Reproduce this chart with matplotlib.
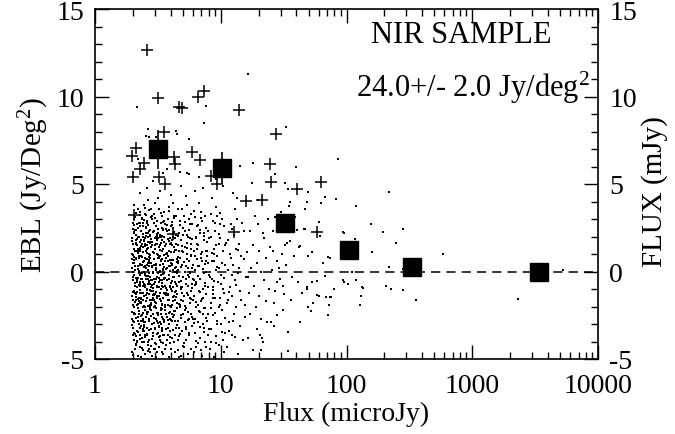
import matplotlib
matplotlib.use('Agg')
import matplotlib.pyplot as plt
from matplotlib.ticker import FixedLocator, FixedFormatter, LogLocator, NullFormatter, MultipleLocator

# ---------------- data ----------------
dots_a = [(1.97,-4.6),(2.03,-3.9),(2.10,-4.2),(2.21,-4.8),(2.27,-3.6),(1.99,-3.2),(2.06,-2.9),(2.14,-3.4),(2.18,-2.6),(2.25,-3.0),
(1.98,-2.3),(2.02,-1.9),(2.09,-2.4),(2.13,-1.6),(2.20,-2.1),(2.28,-1.8),(1.96,-1.4),(2.05,-1.1),(2.11,-1.3),(2.17,-0.9),
(2.23,-1.5),(2.29,-0.7),(1.99,-0.5),(2.04,-0.2),(2.08,-0.8),(2.15,-0.4),(2.22,-0.1),(2.26,-0.6),(1.97,0.2),(2.01,0.5),
(2.07,0.1),(2.12,0.7),(2.19,0.3),(2.24,0.9),(2.30,0.4),(1.98,1.0),(2.03,1.3),(2.10,0.8),(2.16,1.5),(2.21,1.1),
(2.27,1.7),(1.96,1.9),(2.06,2.2),(2.13,1.8),(2.18,2.5),(2.25,2.0),(2.00,2.8),(2.09,3.1),(2.15,2.7),(2.28,3.4),
(2.04,3.8),(2.20,3.6),(1.97,-2.7),(2.12,-3.7),(2.24,-2.4),(2.07,-4.4),(2.17,-4.0),(2.02,-0.3),(2.14,-1.9),(2.27,-1.2),
(1.99,1.6),(2.11,2.4),(2.23,0.0),(2.05,-3.5),(2.19,-2.8),(2.29,-4.3),(2.08,1.2),(2.26,2.6),(1.98,0.7),(2.16,-0.6)]

dots_b = [(2.31,-4.9),(2.40,-4.5),(2.52,-4.7),(2.63,-4.2),(2.75,-4.6),(2.35,-3.8),(2.46,-4.0),(2.57,-3.6),(2.68,-3.9),(2.78,-3.3),
(2.33,-3.1),(2.43,-3.4),(2.50,-2.9),(2.60,-3.2),(2.71,-2.7),(2.38,-2.5),(2.48,-2.2),(2.55,-2.6),(2.65,-2.3),(2.76,-2.0),
(2.32,-1.8),(2.41,-2.0),(2.53,-1.7),(2.61,-1.5),(2.72,-1.9),(2.36,-1.2),(2.45,-1.4),(2.58,-1.0),(2.67,-1.3),(2.77,-1.1),
(2.30,-0.8),(2.39,-0.6),(2.49,-0.9),(2.56,-0.4),(2.64,-0.7),(2.73,-0.3),(2.34,-0.1),(2.44,0.0),(2.52,-0.2),(2.62,0.1),
(2.70,0.3),(2.79,-0.5),(2.37,0.4),(2.47,0.6),(2.54,0.2),(2.66,0.5),(2.74,0.8),(2.31,0.9),(2.42,1.1),(2.51,0.8),
(2.59,1.3),(2.69,1.0),(2.78,1.4),(2.35,1.6),(2.46,1.8),(2.57,1.5),(2.63,2.0),(2.75,1.7),(2.33,2.3),(2.40,2.6),
(2.53,2.2),(2.61,2.8),(2.72,2.4),(2.38,3.0),(2.49,3.3),(2.58,2.9),(2.68,3.5),(2.77,3.1),(2.44,3.8),(2.65,4.1),
(2.32,-2.8),(2.50,-3.6),(2.71,-4.4),(2.36,-0.4),(2.55,0.7),(2.74,-1.6),(2.43,1.4),(2.60,-2.4),(2.76,2.1),(2.34,-1.5),
(2.47,-0.7),(2.64,1.7),(2.39,2.0),(2.57,-1.2),(2.69,-0.1),(2.45,-2.9),(2.62,-4.0),(2.30,1.2),(2.52,1.9),(2.73,0.5),
(2.41,-3.3),(2.56,2.5),(2.67,-2.8),(2.48,0.3),(2.78,-0.9)]

dots_c = [(2.82,-4.8),(2.95,-4.4),(3.08,-4.9),(3.22,-4.3),(3.38,-4.6),(2.88,-3.7),(3.01,-4.1),(3.15,-3.5),(3.29,-3.9),(3.44,-3.4),
(2.85,-3.0),(2.98,-3.3),(3.11,-2.8),(3.25,-3.1),(3.40,-2.6),(2.91,-2.4),(3.04,-2.1),(3.18,-2.5),(3.33,-2.2),(3.46,-2.7),
(2.80,-1.9),(2.93,-1.6),(3.06,-1.8),(3.20,-1.4),(3.35,-1.7),(2.87,-1.1),(3.00,-1.3),(3.13,-0.9),(3.27,-1.2),(3.42,-0.8),
(2.84,-0.5),(2.97,-0.7),(3.10,-0.3),(3.23,-0.6),(3.37,-0.2),(2.90,0.0),(3.03,0.2),(3.16,-0.1),(3.30,0.4),(3.45,0.1),
(2.81,0.5),(2.94,0.7),(3.07,0.4),(3.21,0.9),(3.36,0.6),(2.89,1.1),(3.02,1.3),(3.14,1.0),(3.28,1.5),(3.41,1.2),
(2.86,1.7),(2.99,1.9),(3.12,1.6),(3.26,2.1),(3.39,1.8),(2.92,2.3),(3.05,2.6),(3.19,2.2),(3.32,2.8),(3.47,2.4),
(2.83,3.0),(2.96,3.3),(3.09,2.9),(3.24,3.6),(3.43,3.2),(3.00,3.9),(3.17,4.2),(2.90,-3.5),(3.12,-4.6),(3.31,-2.9),
(2.95,-2.0),(3.08,-0.4),(3.22,1.4),(3.36,-1.0),(2.86,0.3),(3.04,-2.7),(3.18,0.8),(3.34,2.0),(2.98,1.5),(3.14,-1.5),
(3.27,-3.7),(3.44,-1.9),(2.81,-2.2),(3.06,2.0),(3.21,-0.9),(3.40,0.7),(2.93,-1.3),(3.10,1.8),(3.29,-0.5),(3.46,-4.1)]

dots_d = [(3.50,-4.7),(3.68,-4.2),(3.86,-4.9),(4.05,-4.4),(4.30,-4.6),(3.55,-3.6),(3.74,-3.9),(3.93,-3.4),(4.12,-3.8),(4.38,-3.2),
(3.52,-2.9),(3.71,-2.6),(3.90,-3.0),(4.09,-2.4),(4.34,-2.8),(3.60,-2.2),(3.79,-1.9),(3.98,-2.3),(4.18,-1.7),(4.45,-2.1),
(3.48,-1.5),(3.65,-1.2),(3.84,-1.6),(4.02,-1.0),(4.24,-1.4),(3.58,-0.8),(3.77,-0.5),(3.96,-0.9),(4.15,-0.3),(4.41,-0.7),
(3.53,-0.1),(3.72,0.2),(3.91,-0.2),(4.10,0.4),(4.32,0.0),(3.62,0.6),(3.81,0.9),(4.00,0.5),(4.21,1.1),(4.47,0.7),
(3.49,1.3),(3.69,1.6),(3.88,1.2),(4.07,1.8),(4.28,1.4),(3.57,2.0),(3.76,2.3),(3.95,1.9),(4.14,2.5),(4.40,2.1),
(3.63,2.7),(3.83,3.0),(4.03,2.6),(4.26,3.2),(3.54,3.4),(3.89,3.7),(4.19,3.9),(3.66,-3.3),(3.97,-4.1),(4.22,-2.5),
(3.51,-0.4),(3.80,-1.3),(4.08,1.5),(4.36,-0.6),(3.70,0.8),(3.94,-2.7),(4.16,0.1),(4.43,1.6),(3.59,-1.9),(3.85,2.4),
(4.11,-1.1),(4.33,-3.6),(3.64,1.0),(3.92,0.3),(4.20,-0.9),(4.46,-1.8)]

dots_e = [(4.55,-4.5),(4.80,-4.8),(5.10,-4.3),(5.45,-4.7),(5.85,-4.4),(4.62,-3.7),(4.92,-3.4),(5.25,-3.9),(5.60,-3.5),(5.95,-3.1),
(4.58,-2.8),(4.87,-2.5),(5.18,-2.9),(5.52,-2.3),(5.90,-2.6),(4.70,-2.0),(5.00,-1.7),(5.33,-2.1),(5.70,-1.5),(4.52,-1.3),
(4.83,-1.0),(5.14,-1.4),(5.48,-0.8),(5.80,-1.1),(4.66,-0.6),(4.97,-0.3),(5.29,-0.7),(5.65,-0.1),(5.98,-0.4),(4.60,0.1),
(4.90,0.4),(5.21,0.0),(5.56,0.6),(5.88,0.2),(4.74,0.8),(5.05,1.1),(5.38,0.7),(5.75,1.3),(4.53,1.5),(4.85,1.8),
(5.16,1.4),(5.50,2.0),(5.83,1.6),(4.68,2.2),(5.02,2.5),(5.35,2.1),(5.72,2.7),(4.77,2.9),(5.12,3.2),(5.58,3.0),
(4.95,3.6),(5.42,3.8),(4.64,-3.2),(5.08,-4.1),(5.62,-2.7),(4.88,-0.9),(5.26,0.3),(5.68,-1.8),(4.56,0.5),(5.40,1.0),
(5.93,-0.7),(4.79,-1.6),(5.19,2.3),(5.77,0.9),(5.00,-2.4),(5.47,-0.2)]

dots_f = [(6.10,-4.6),(6.55,-4.1),(7.10,-4.8),(7.70,-4.3),(6.25,-3.5),(6.80,-3.8),(7.35,-3.2),(7.95,-3.6),(6.05,-2.7),(6.65,-2.9),
(7.20,-2.4),(7.80,-2.8),(6.40,-2.0),(6.95,-1.7),(7.50,-2.1),(6.15,-1.4),(6.70,-1.1),(7.25,-1.5),(7.85,-0.9),(6.35,-0.7),
(6.90,-0.4),(7.45,-0.8),(8.00,-0.2),(6.20,0.1),(6.75,0.3),(7.30,-0.1),(7.90,0.5),(6.45,0.7),(7.00,1.0),(7.60,0.6),
(6.08,1.2),(6.60,1.5),(7.15,1.1),(7.75,1.7),(6.30,1.9),(6.85,2.2),(7.40,1.8),(7.98,2.3),(6.50,2.6),(7.05,2.9),
(7.65,2.5),(6.22,3.1),(6.95,3.4),(7.55,3.2),(6.70,3.9),(6.12,-0.5),(6.58,-1.9),(7.12,0.6),(7.68,-1.3),(6.38,2.0),
(7.22,-3.0),(7.82,1.2),(6.82,-2.3),(7.48,-4.0),(6.28,0.9)]

dots_g = [(8.2,-4.4),(8.9,-4.9),(9.7,-4.2),(10.6,-4.6),(8.4,-3.3),(9.2,-3.7),(10.1,-3.0),(10.9,-3.5),(8.6,-2.5),(9.4,-2.8),
(10.3,-2.2),(8.3,-1.8),(9.0,-1.5),(9.9,-1.9),(10.7,-1.2),(8.7,-0.9),(9.5,-0.6),(10.4,-1.0),(8.2,-0.3),(9.1,0.1),
(10.0,-0.2),(10.8,0.4),(8.5,0.6),(9.3,0.9),(10.2,0.5),(8.8,1.3),(9.6,1.6),(10.5,1.2),(8.3,2.0),(9.0,2.3),
(9.8,1.9),(10.7,2.6),(8.6,2.9),(9.4,3.2),(10.3,3.0),(9.1,3.7),(8.4,-2.1),(9.7,0.2),(10.5,-3.9),(8.9,1.0),
(10.1,-0.7),(9.2,-4.1),(10.9,1.5),(8.7,-1.3),(9.9,2.7)]

dots_h = [(11.3,-4.3),(12.4,-3.6),(13.6,-4.7),(15.0,-3.9),(11.6,-2.9),(12.8,-2.4),(14.1,-3.1),(15.6,-2.6),(11.2,-1.8),(12.2,-1.4),
(13.3,-2.0),(14.6,-1.6),(11.8,-0.9),(13.0,-0.5),(14.3,-1.1),(15.8,-0.3),(11.4,0.1),(12.6,0.4),(13.8,-0.1),(15.2,0.7),
(11.9,1.0),(13.2,1.3),(14.5,0.9),(11.5,1.8),(12.7,2.1),(14.0,1.6),(15.4,2.3),(12.1,2.7),(13.5,3.0),(14.8,2.8),
(12.9,3.6),(11.7,-3.4),(13.9,0.2),(15.5,-1.9),(12.3,-0.2)]

dots_i = [(16.5,-3.8),(18.0,-4.5),(19.5,-3.3),(21.5,-4.0),(23.5,-2.9),(17.2,-2.4),(19.0,-2.0),(20.8,-2.7),(22.8,-1.7),(16.8,-1.2),
(18.5,-0.8),(20.2,-1.4),(22.2,-0.5),(24.2,-1.0),(17.5,0.2),(19.3,0.5),(21.0,0.0),(23.0,0.8),(16.3,1.1),(18.2,1.5),
(20.0,1.2),(22.0,1.9),(24.5,1.4),(17.0,2.3),(19.8,2.7),(21.8,2.2),(18.8,3.2),(23.8,3.0),(16.6,-0.3),(20.6,-3.6),
(21.2,-3.8),(21.0,-4.46),(17.7,5.04),(19.8,4.1)]

dots_j = [(25.0,-2.9),(26.6,-3.1),(34.4,-3.48),(42.6,-2.9),(34.4,-4.56),(35.4,3.99),(35.0,3.75),(32.4,5.07),(34.5,4.7),
(40.5,2.38),(35.4,1.77),(33.5,1.62),(32.3,1.52),(41.8,1.39),(43.0,1.43),(27.0,5.6),(40.0,5.99),(32.9,8.27),
(26.0,1.2),(28.0,0.6),(29.5,-0.4),(27.2,-1.1),(30.5,1.0),(25.8,2.3),(28.8,2.9),(31.0,-0.8),(26.5,-1.8),(29.0,0.2),
(31.5,-2.2),(27.8,-2.5),(33.0,0.4),(37.0,-0.3),(38.5,0.9),(36.0,-1.6),(44.0,-1.2),(39.0,3.1),(30.0,3.4),(25.5,0.1),
(28.2,-0.6),(32.0,-1.3),(36.5,2.6),(41.0,-0.6),(26.8,3.1)]

dots_k = [(46,2.43),(47,2.42),(47,3.57),(48.6,3.99),(49,4.56),(60,2.85),(61.5,2.05),(49,0.9),(52.7,1.14),(71.7,0.82),
(65,0.51),(58,-0.57),(53,-0.6),(68,-0.25),(48.3,-0.86),(48.6,-0.99),(58,-1.33),(60,-1.39),(69,-1.43),(75,-1.43),
(72.5,-1.9),(54,-1.8),(52.5,-2.28),(49,-2.0),(71.7,-2.5),(67,4.28),(82,4.14),(63,3.93),(86,6.43),(93,2.25),
(95,2.2),(74,0.8),(94,-0.47),(95,-0.6),(79.5,-1.0),(74,-1.48)]

dots_l = [(103,-0.7),(111,-0.03),(119,-0.51),(134,-0.86),(136,-0.95),(130,-1.39),(129,-1.9),(207,-0.8),(225,-1.0),(280,-1.08),
(355,-1.65),(2300,-1.57),(5300,0.1),(119,3.77),(219,4.56),(116,1.86),(156,2.7),(196,2.28),(283,2.43),(246,1.65),
(159,1.14),(219,0.27),(582,1.0),(280,0.15)]

dots_top = [(16.4,11.3),(2.14,9.4),(7.58,9.45),(7.35,8.5),(2.65,8.12),(4.4,8.02),(4.5,7.85),(5.6,7.55),(2.55,7.74),(2.7,7.7),
(3.05,7.7),(18.0,6.18),(14.2,6.04),(4.74,5.7),(5.37,5.64),(5.6,5.6),(3.5,5.64),(3.75,5.84),(2.18,6.41),
(2.3,4.5),(2.6,4.8),(3.3,4.6),(4.0,4.4),(4.8,4.9),(5.3,4.3),(6.2,4.6),(7.2,4.8),(8.5,4.2),(10.5,4.9),(12.5,4.5),
(9.2,5.3),(11.8,5.6),(13.5,4.2),(2.9,5.2),(6.7,5.4)]

dots_core1 = [(2.00,-4.75),(2.37,-4.35),(2.16,-3.95),(2.51,-3.75),(2.08,-3.55),(2.29,-3.25),(1.98,-3.05),(2.43,-2.85),(2.12,-2.65),(2.58,-2.45),
(2.22,-2.25),(2.04,-2.05),(2.47,-1.95),(2.34,-1.75),(2.19,-1.55),(2.55,-1.35),(1.99,-1.15),(2.27,-1.05),(2.41,-0.85),(2.09,-0.65),
(2.32,-0.45),(2.53,-0.25),(2.01,-0.05),(2.18,0.15),(2.45,0.25),(2.26,0.45),(2.05,0.65),(2.38,0.85),(2.57,1.05),(2.14,1.15),
(2.30,1.35),(2.49,1.55),(1.97,1.75),(2.21,1.95),(2.40,2.15),(2.07,2.35),(2.54,2.55),(2.24,2.75),(2.36,3.05),(2.11,3.35),
(2.50,3.65),(2.28,-3.85),(2.44,-3.15),(2.03,-2.35),(2.20,-1.85),(2.35,-1.25),(2.52,-0.75),(2.10,-0.35),(2.25,0.05),(2.42,0.55),
(2.02,0.95),(2.33,1.45),(2.17,1.85),(2.56,2.05),(2.06,2.65),(2.46,2.95),(2.31,-2.55),(2.13,-1.45),(2.48,-0.15),(2.23,0.75),
(1.99,-2.85),(2.39,-1.65),(2.15,-0.55),(2.59,0.35),(2.27,1.25),(2.01,2.45),(2.44,1.75),(2.19,-3.45),(2.35,-4.05),(2.08,-1.75)]

dots_core2 = [(2.62,-4.55),(3.05,-4.15),(2.85,-3.85),(3.45,-3.65),(2.70,-3.35),(3.25,-3.15),(2.95,-2.95),(3.52,-2.75),(2.78,-2.55),(3.15,-2.35),
(3.38,-2.15),(2.66,-1.95),(3.02,-1.75),(3.30,-1.55),(2.88,-1.35),(3.55,-1.25),(2.73,-1.05),(3.12,-0.85),(3.42,-0.65),(2.97,-0.45),
(2.64,-0.25),(3.20,-0.05),(3.48,0.15),(2.82,0.25),(3.08,0.45),(3.35,0.65),(2.69,0.85),(2.92,1.05),(3.27,1.25),(3.58,1.45),
(2.76,1.65),(3.10,1.85),(3.40,2.05),(2.87,2.25),(3.18,2.45),(2.63,2.65),(3.50,2.85),(2.99,3.05),(3.33,3.35),(2.80,3.55),
(3.14,-3.55),(2.75,-2.15),(3.44,-1.85),(2.90,-0.95),(3.23,-0.35),(2.68,0.55),(3.53,0.95),(3.03,1.55),(2.84,-1.65),(3.36,-2.45),
(2.96,2.75),(3.28,1.95),(2.71,-0.65),(3.06,-1.15),(3.47,-0.15),(2.93,0.35),(3.17,0.95),(2.65,1.35),(3.39,-3.35),(3.00,-4.45)]

dots_core3 = [(3.62,-4.45),(4.25,-4.05),(3.95,-3.75),(4.70,-3.55),(3.78,-3.25),(4.45,-3.05),(4.10,-2.85),(4.85,-2.65),(3.68,-2.45),(4.35,-2.25),
(4.00,-2.05),(4.62,-1.85),(3.85,-1.65),(4.20,-1.45),(4.90,-1.25),(3.72,-1.05),(4.50,-0.85),(4.05,-0.65),(3.90,-0.45),(4.65,-0.25),
(4.28,-0.05),(3.65,0.15),(4.80,0.25),(4.13,0.45),(3.98,0.65),(4.55,0.85),(3.75,1.05),(4.38,1.25),(4.95,1.45),(4.02,1.65),
(3.82,1.85),(4.60,2.05),(4.22,2.25),(3.70,2.45),(4.75,2.65),(4.08,2.85),(4.42,3.15),(3.88,3.45),(4.58,3.55),(4.18,-3.35),
(3.80,-2.75),(4.72,-2.05),(4.30,-1.15),(3.94,0.05),(4.48,0.55),(4.86,-0.55),(3.66,-1.35),(4.15,1.95),(4.68,1.15),(3.92,-1.95)]

dots_core4 = [(5.05,-4.25),(6.40,-3.95),(5.55,-3.65),(7.30,-3.45),(5.25,-3.15),(6.10,-2.95),(7.60,-2.65),(5.75,-2.45),(6.70,-2.25),(5.15,-1.95),
(6.30,-1.75),(7.10,-1.55),(5.45,-1.35),(6.85,-1.15),(5.90,-0.95),(7.45,-0.65),(5.30,-0.45),(6.55,-0.25),(5.68,-0.05),(7.20,0.15),
(6.00,0.35),(5.12,0.55),(6.95,0.75),(5.80,0.95),(7.70,1.15),(5.36,1.35),(6.45,1.55),(5.95,1.85),(7.35,2.05),(5.60,2.35),
(6.60,2.65),(5.20,2.85),(7.00,3.05),(6.15,3.45),(5.50,-2.75),(6.90,-3.15),(5.85,-1.55),(7.55,0.45),(6.25,-0.75),(5.40,1.65)]

dots_core5 = [(8.4,-4.05),(10.2,-3.45),(12.5,-2.85),(9.0,-2.35),(11.4,-1.65),(8.7,-1.05),(13.2,-0.75),(10.6,-0.35),(9.3,0.25),(12.0,0.75),
(8.5,1.05),(11.0,1.65),(13.6,1.25),(9.6,2.15),(12.3,2.45),(8.8,-0.55),(10.8,-2.65),(13.0,-3.75),(9.8,3.35),(11.7,-1.15)]

dots_core6 = [(2.06,-2.45),(2.61,-2.30),(3.32,-2.10),(4.12,-1.90),(2.25,-1.70),(2.87,-1.50),(3.61,-1.30),(4.40,-1.10),(2.14,-0.90),(2.72,-0.70),
(3.44,-0.50),(4.25,-0.30),(2.36,-0.10),(3.07,0.10),(3.87,0.30),(2.03,0.50),(2.58,0.70),(3.26,0.90),(4.05,1.10),(2.20,1.30),
(2.83,1.50),(3.54,1.70),(4.33,1.90),(2.12,2.10),(2.69,2.30),(3.41,2.50),(4.18,-2.60),(2.48,-2.00),(3.13,-1.40),(3.97,-0.80),
(2.30,-0.20),(2.94,0.40),(3.72,1.00),(2.10,1.60),(2.66,2.20),(3.36,-3.00),(4.46,-0.10),(2.41,-1.20),(3.01,-0.60),(3.79,0.60),
(2.18,-2.80),(2.77,-1.80),(3.49,-0.90),(4.29,0.20),(2.53,1.20),(3.19,1.90),(4.01,2.60),(2.00,-1.60),(2.63,-0.40),(3.24,0.80),
(2.09,0.30),(2.40,-2.70),(2.98,-3.20),(3.65,-2.40),(4.36,-1.60),(2.27,2.80),(2.85,3.20),(3.57,2.90),(2.45,-3.40),(3.82,-3.60),
(2.05,3.00),(2.34,1.80),(2.91,-0.10),(3.46,0.45),(4.09,-0.55),(2.57,-1.05),(3.12,2.15),(3.93,1.55),(2.22,-0.75),(2.74,0.95)]

dots_core7 = [(2.02,-3.65),(2.47,-3.05),(2.93,-2.65),(3.58,-2.05),(4.44,-1.45),(2.16,-1.15),(2.68,-0.55),(3.29,0.05),(4.02,0.65),(2.24,1.25),
(2.81,1.85),(3.47,2.45),(4.27,3.05),(2.11,-4.15),(2.59,-3.55),(3.16,-2.95),(3.86,-2.35),(2.33,-1.55),(2.89,-0.95),(3.57,-0.35),
(4.39,0.25),(2.04,0.85),(2.52,1.45),(3.09,2.05),(3.77,2.65),(2.29,3.25),(2.78,-4.25),(3.42,-3.25),(4.21,-2.25),(2.07,-1.25),
(2.55,-0.25),(3.15,0.75),(3.91,1.75),(2.43,2.75),(2.99,-1.95),(3.69,-0.95),(4.49,0.05),(2.20,1.05),(2.72,2.05),(3.35,-4.05),
(2.39,-2.35),(2.96,-1.35),(3.63,-0.35),(4.16,0.65),(2.13,1.65),(2.64,2.65),(3.22,-3.75),(3.99,-2.75),(2.28,-1.75),(2.86,-0.75),
(3.51,0.25),(4.31,1.25),(2.06,2.25),(2.56,3.25),(3.11,-2.35),(3.83,-1.35),(2.18,-0.35),(2.71,0.65),(3.34,1.65),(4.11,2.65)]

dots_core8 = [(4.6,-3.9),(5.3,-3.3),(6.2,-2.7),(7.4,-2.1),(8.6,-1.5),(4.8,-0.9),(5.6,-0.3),(6.6,0.3),(7.8,0.9),(9.2,1.5),
(5.0,2.1),(5.9,2.7),(7.0,-4.5),(8.1,-3.3),(9.6,-2.0),(4.7,-1.9),(5.4,-1.2),(6.4,-0.6),(7.6,0.0),(8.9,0.6),
(4.9,1.2),(5.7,1.9),(6.8,2.4),(8.3,3.3),(9.9,-1.5),(5.2,-2.2),(6.0,-1.6),(7.2,-1.0),(8.5,-0.4),(9.4,-3.0),
(4.55,0.6),(5.5,0.2),(6.5,1.3),(7.9,-2.4),(9.0,2.8),(5.8,3.3),(6.3,-4.3),(7.3,2.2),(4.65,-4.9),(8.0,1.9)]

plus_pts = [(2.59,12.68),(3.19,9.94),(4.65,9.41),(4.94,9.35),(6.56,9.98),(7.4,10.3),(13.97,9.22),(3.54,7.98),(2.12,7.07),
(1.96,6.6),(2.47,6.18),(2.28,5.86),(2.02,5.42),(4.27,6.56),(4.33,6.12),(5.87,6.84),(6.84,6.37),(27.4,7.85),(24.8,6.12),
(8.37,5.47),(3.23,5.42),(3.6,5.0),(9.28,5.0),(24.9,5.13),(40.6,4.71),(62.3,5.1),(15.8,4.05),(21.2,4.09),(2.04,3.23),
(4.2,2.15),(12.7,2.28),(58.6,2.28)]

sq_flux = [3.19, 10.3, 32.4, 105, 334, 3410]
sq_ebl = [6.98, 5.9, 2.76, 1.22, 0.25, -0.04]
sq_err = [1.1, 0.92, 0.45, 0.4, 0.35, 0.3]

x_ticks = [1, 10, 100, 1000, 10000]
x_ticklabels = ['1', '10', '100', '1000', '10000']
y_ticks = [-5, 0, 5, 10, 15]
y_ticklabels = ['-5', '0', '5', '10', '15']

# ---------------- style ----------------
plt.rcParams['font.family'] = ['Liberation Serif', 'DejaVu Serif']
plt.rcParams['mathtext.fontset'] = 'custom'
plt.rcParams['mathtext.rm'] = 'Liberation Serif'
plt.rcParams['mathtext.default'] = 'rm'
plt.rcParams['axes.unicode_minus'] = False

fig = plt.figure(figsize=(6.75, 4.35), dpi=100)
ax = fig.add_axes([95/675, 1-360/435, 503/675, 350/435])

all_dots = (dots_a + dots_b + dots_c + dots_d + dots_e + dots_f + dots_g + dots_h + dots_i + dots_j
            + dots_k + dots_l + dots_top + dots_core1 + dots_core2 + dots_core3 + dots_core4
            + dots_core5 + dots_core6 + dots_core7 + dots_core8)
dx = [p[0] for p in all_dots]
dy = [p[1] for p in all_dots]
ax.plot(dx, dy, 's', ms=1.9, mew=0, color='black', zorder=2)

px = [p[0] for p in plus_pts]
py = [p[1] for p in plus_pts]
ax.plot(px, py, '+', ms=8, mew=1.1, color='black', zorder=3)

ax.axhline(0, color='black', lw=1.1, ls=(0, (6, 4)), zorder=1)

ax.errorbar(sq_flux, sq_ebl, yerr=sq_err, fmt='s', ms=13, color='black',
            elinewidth=1.2, capsize=0, zorder=4)

ax.set_xscale('log')
ax.set_xlim(1, 10000)
ax.set_ylim(-5, 15)
ax.xaxis.set_major_locator(FixedLocator(x_ticks))
ax.xaxis.set_major_formatter(FixedFormatter(x_ticklabels))
ax.xaxis.set_minor_locator(LogLocator(base=10, subs=[2, 3, 4, 5, 6, 7, 8, 9], numticks=20))
ax.xaxis.set_minor_formatter(NullFormatter())
ax.yaxis.set_major_locator(FixedLocator(y_ticks))
ax.yaxis.set_major_formatter(FixedFormatter(y_ticklabels))
ax.yaxis.set_minor_locator(MultipleLocator(1))

ax.tick_params(which='both', direction='in', top=True, right=True, width=1.0)
ax.tick_params(which='major', length=10, labelsize=20)
ax.tick_params(which='minor', length=5)
ax.tick_params(axis='x', which='major', pad=10)
ax.tick_params(axis='y', which='major', pad=8)
ax.tick_params(axis='y', labelright=True)
for s in ax.spines.values():
    s.set_linewidth(1.2)

ax.set_xlabel('Flux (microJy)', fontsize=20, labelpad=2)
ax.set_ylabel('EBL (Jy/Deg$^{2}$)', fontsize=21, labelpad=4)
fig.text(655/675, 1-192/435, 'FLUX (mJy)', rotation=90, fontsize=21, ha='center', va='center')

fig.text(461/675, 1-43/435, 'NIR SAMPLE', fontsize=22, ha='center', va='baseline')
fig.text(590/675, 1-97/435, '24.0+/- 2.0 Jy/deg$^{2}$', fontsize=22, ha='right', va='baseline')

fig.savefig('out.png', dpi=100)
